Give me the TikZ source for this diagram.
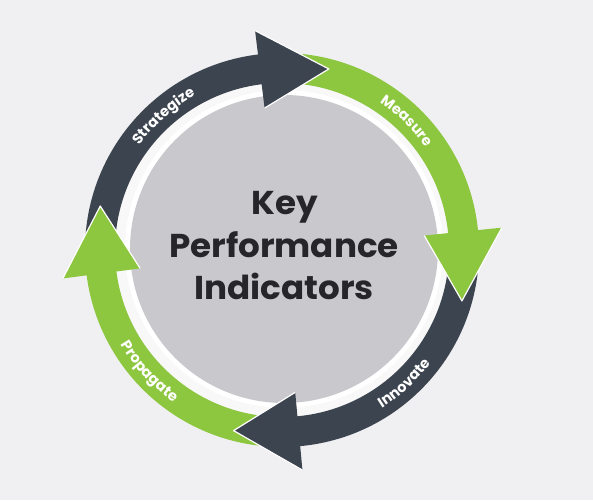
\documentclass[tikz,border=0pt]{standalone}
\usepackage{fontspec}
\setmainfont{Poppins}
\newfontfamily\arcfont{Poppins}[LetterSpace=12]
\newfontfamily\kpifont{Poppins}[FakeStretch=1.035]
\usetikzlibrary{decorations.text}
\definecolor{bg}{RGB}{240,240,242}
\definecolor{dk}{RGB}{60,68,79}
\definecolor{gr}{RGB}{141,198,63}
\definecolor{cg}{RGB}{201,200,205}
\definecolor{tx}{RGB}{38,38,42}
\newcommand\bandarc[3]{%
  \fill[#1] ([shift={(#2:167)}]C) arc[start angle=#2, end angle=#3, radius=167]
    -- ([shift={(#3:197)}]C) arc[start angle=#3, end angle=#2, radius=197] -- cycle;}
\newcommand\headtri[3]{%
  \fill[#1] ([shift={(#2:143)}]C) -- ([shift={(#3:187)}]C) -- ([shift={(#2:221)}]C) -- cycle;
  \draw[white, line width=1.2pt, line join=round] ([shift={(#2:143)}]C) -- ([shift={(#3:187)}]C) -- ([shift={(#2:221)}]C);}
\tikzset{
  arclabel/.style={decorate, decoration={text along path, text align=center, text color=white,
     text={|\arcfont\fontsize{14.5}{16}\selectfont\bfseries|#1}}},
  kpitext/.style={font=\kpifont\fontsize{33}{36}\selectfont\bfseries, text=tx, anchor=base, inner sep=0pt}
}
\begin{document}
\begin{tikzpicture}[x=1pt,y=1pt]
\fill[bg] (0,0) rectangle (593,500);
\useasboundingbox (0,0) rectangle (593,500);
\coordinate (C) at (282,250);
\coordinate (G) at (284,251);
\fill[white!55!bg] (C) circle[radius=167];
\fill[white] (G) circle[radius=159];
\node[circle, fill=cg, minimum size=308pt, inner sep=0pt] (core) at (G) {};
% bodies
\bandarc{dk}{181.4}{96}
\bandarc{gr}{91}{4.8}
\bandarc{dk}{-0.2}{-85.7}
\bandarc{gr}{-90.7}{-173.6}
% heads
\headtri{dk}{97}{75.5}
\headtri{gr}{5.8}{-15.8}
\headtri{dk}{-84.7}{-105}
\headtri{gr}{187.4}{166.4}
% labels
\path[arclabel=Strategize] ([shift={(171.5:177)}]C) arc[start angle=171.5, end angle=91.5, radius=177];
\path[arclabel=Measure] ([shift={(86:177)}]C) arc[start angle=86, end angle=6, radius=177];
\path[arclabel=Innovate] ([shift={(-87.5:187)}]C) arc[start angle=-87.5, end angle=-7.5, radius=187];
\path[arclabel=Propagate] ([shift={(182.5:187)}]C) arc[start angle=182.5, end angle=262.5, radius=187];
% centre text
\node[kpitext] (key) at (284.5,285) {Key};
\node[kpitext] (perf) at (284,242) {Performance};
\node[kpitext] (ind) at (284,200) {Indicators};
\end{tikzpicture}
\end{document}
